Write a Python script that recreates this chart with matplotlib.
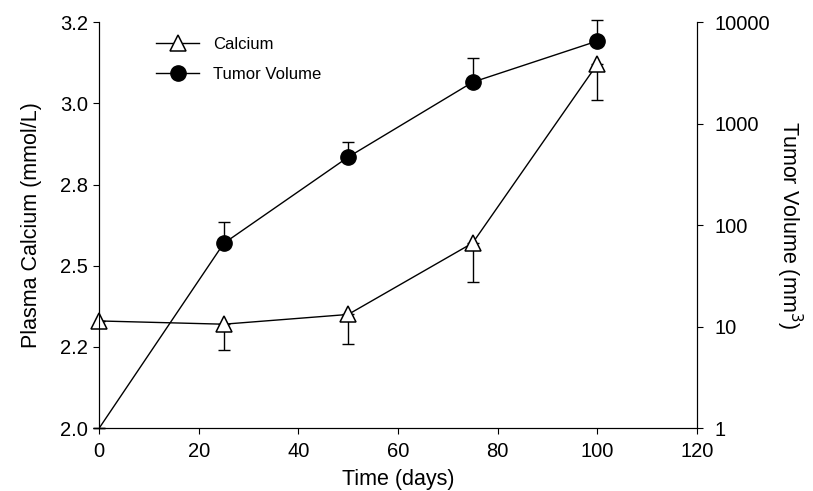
import matplotlib
matplotlib.use("Agg")
import matplotlib.pyplot as plt
from matplotlib.ticker import FormatStrFormatter, FixedLocator, NullLocator
import numpy as np

plt.rcParams['font.family'] = ['Liberation Sans', 'DejaVu Sans']

# data
days = [0, 25, 50, 75, 100]
calcium = [2.33, 2.32, 2.35, 2.57, 3.12]
calcium_err = [0, 0.08, 0.09, 0.12, 0.11]      # lower error only
tumor = [1, 66, 468, 2560, 6500]
tumor_err_top = [1, 107, 660, 4420, 10500]      # top of upper error bar

fig = plt.figure(figsize=(8.13, 4.91), dpi=100)
ax = fig.add_axes([0.122, 0.128, 0.735, 0.827])
ax2 = ax.twinx()

# calcium on left axis
eb = ax.errorbar(days, calcium, yerr=[calcium_err, [0]*len(days)], fmt='none',
                 ecolor='black', elinewidth=1, capsize=4, capthick=1)
l1, = ax.plot(days, calcium, '-', color='black', lw=1, marker='^', markersize=11,
              markerfacecolor='white', markeredgecolor='black', markeredgewidth=1.1,
              label='Calcium', zorder=5, clip_on=False)

# tumor volume on right (log) axis
up = np.array(tumor_err_top) - np.array(tumor)
eb2 = ax2.errorbar(days, tumor, yerr=[[0]*len(days), up], fmt='none',
                   ecolor='black', elinewidth=1, capsize=4, capthick=1)
for art in eb2.lines[1] + eb2.lines[2]:
    art.set_clip_on(False)
l2, = ax2.plot(days, tumor, '-', color='black', lw=1, marker='o', markersize=11,
               markerfacecolor='black', markeredgecolor='black', markevery=[1, 2, 3, 4],
               label='Tumor Volume', zorder=5)

ax.set_xlim(0, 120)
ax.set_ylim(2.0, 3.25)
ax.set_yticks(np.arange(2.0, 3.26, 0.25))
ax.yaxis.set_major_formatter(FormatStrFormatter('%.1f'))
ax.set_xticks(range(0, 121, 20))

ax2.set_yscale('log')
ax2.set_ylim(1, 10000)
ax2.yaxis.set_major_locator(FixedLocator([1, 10, 100, 1000, 10000]))
ax2.yaxis.set_minor_locator(NullLocator())
ax2.set_yticklabels(['1', '10', '100', '1000', '10000'])

for a in (ax, ax2):
    a.spines['top'].set_visible(False)
    a.tick_params(direction='out', length=4, width=0.8, labelsize=14.5)
ax.tick_params(axis='x', pad=6)
ax.tick_params(axis='y', pad=4)
ax2.tick_params(axis='y', pad=9)

ax.set_xlabel('Time (days)', fontsize=15.5, labelpad=6)
ax.set_ylabel('Plasma Calcium (mmol/L)', fontsize=15.5, labelpad=13)
ax2.set_ylabel('Tumor Volume (mm$^3$)', fontsize=15.5, rotation=270, labelpad=24)

ax.legend(handles=[l1, l2], loc='upper left', bbox_to_anchor=(0.07, 1.0),
          frameon=False, fontsize=12, handlelength=2.6, labelspacing=0.9)

fig.savefig('out.png', dpi=100)
